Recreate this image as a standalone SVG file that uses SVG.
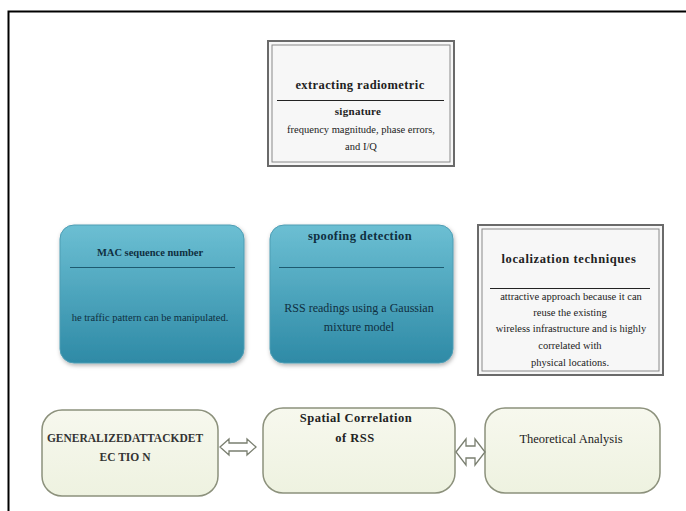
<svg xmlns="http://www.w3.org/2000/svg" width="686" height="511" viewBox="0 0 686 511">
<defs>
<linearGradient id="blue" x1="0" y1="0" x2="0" y2="1">
<stop offset="0" stop-color="#6cbfd3"/>
<stop offset="1" stop-color="#2e8aa6"/>
</linearGradient>
<linearGradient id="cream" x1="0" y1="0" x2="0" y2="1">
<stop offset="0" stop-color="#f7f8ee"/>
<stop offset="1" stop-color="#eef2e0"/>
</linearGradient>
<filter id="sh" x="-10%" y="-10%" width="125%" height="125%">
<feDropShadow dx="1" dy="2" stdDeviation="2" flood-color="#000" flood-opacity="0.3"/>
</filter>
</defs>
<style>
text{font-family:"Liberation Serif","Times New Roman",serif;fill:#222;text-anchor:middle}
.t{font-weight:bold}
.b{fill:#0f2f3f}
.dbl{fill:#f7f7f7;stroke:#6a6a6a;stroke-width:2}
.in{fill:none;stroke:#8a8a8a;stroke-width:1}
.blue{fill:url(#blue);stroke:#4e9db4;stroke-width:1;filter:url(#sh)}
.cr{fill:url(#cream);stroke:#8c917c;stroke-width:1.5}
.rule{stroke:#222;stroke-width:1}
.rb{stroke:#1e5a70;stroke-width:1.2}
.arr{fill:#fff;stroke:#7a7f70;stroke-width:1.3}
</style>
<rect width="686" height="511" fill="#fff"/>
<path d="M8.5 511 V11.5 H686" fill="none" stroke="#000" stroke-width="2"/>

<g id="radiometric">
<rect class="dbl" x="268" y="41" width="186" height="125"/>
<rect class="in" x="272" y="45" width="178" height="117"/>
<text class="t" style="font-size:12.5px;letter-spacing:0.4px" x="360" y="89">extracting radiometric</text>
<line class="rule" x1="277" y1="100.5" x2="444" y2="100.5"/>
<text class="t" style="font-size:11px;letter-spacing:0.3px" x="358" y="115">signature</text>
<text style="font-size:10.5px" x="361" y="133">frequency magnitude, phase errors,</text>
<text style="font-size:10.5px" x="361" y="150">and I/Q</text>
</g>

<g id="mac">
<rect class="blue" x="60" y="225" width="184" height="138" rx="14"/>
<text class="t b" style="font-size:10.5px" x="150" y="256">MAC sequence number</text>
<line class="rb" x1="70" y1="267.5" x2="235" y2="267.5"/>
<text class="b" style="font-size:10.5px" x="150" y="321">he traffic pattern can be manipulated.</text>
</g>

<g id="spoofing">
<rect class="blue" x="270" y="225" width="183" height="138" rx="14"/>
<text class="t b" style="font-size:12.5px;letter-spacing:0.4px" x="360" y="240">spoofing detection</text>
<line class="rb" x1="279" y1="267.5" x2="444" y2="267.5"/>
<text class="b" style="font-size:12px" x="359" y="312">RSS readings using a Gaussian</text>
<text class="b" style="font-size:12px" x="359" y="331">mixture model</text>
</g>

<g id="localization">
<rect class="dbl" x="478" y="225" width="185" height="150"/>
<rect class="in" x="482" y="229" width="177" height="142"/>
<text class="t" style="font-size:12.5px;letter-spacing:0.6px" x="569" y="263">localization techniques</text>
<line class="rule" x1="490" y1="288.5" x2="650" y2="288.5"/>
<text style="font-size:10.5px" x="571" y="300">attractive approach because it can</text>
<text style="font-size:10.5px" x="570" y="316">reuse the existing</text>
<text style="font-size:10.5px" x="571" y="332">wireless infrastructure and is highly</text>
<text style="font-size:10.5px" x="570" y="349">correlated with</text>
<text style="font-size:10.5px" x="570" y="366">physical locations.</text>
</g>

<g id="generalized">
<rect class="cr" x="42" y="410" width="176" height="86" rx="20"/>
<text class="t" style="font-size:11.5px;fill:#333" x="125" y="442">GENERALIZEDATTACKDET</text>
<text class="t" style="font-size:11.5px;fill:#333" x="125" y="461">EC TIO N</text>
</g>

<g id="spatial">
<rect class="cr" x="263" y="408" width="192" height="85" rx="20"/>
<text class="t" style="font-size:12.5px;letter-spacing:0.5px" x="356" y="422">Spatial Correlation</text>
<text class="t" style="font-size:12.5px;letter-spacing:0.5px" x="355" y="442">of RSS</text>
</g>

<g id="theoretical">
<rect class="cr" x="485" y="408" width="175" height="85" rx="20"/>
<text style="font-size:12.5px" x="571" y="443">Theoretical Analysis</text>
</g>

<g id="connectors">
<path class="arr" d="M220 447 L229 439 V443 H247 V439 L256 447 L247 455 V451 H229 V455 Z"/>
<path class="arr" d="M456 452 L466 439 V446 H475 V439 L485 452 L475 465 V458 H466 V465 Z"/>
</g>
</svg>
